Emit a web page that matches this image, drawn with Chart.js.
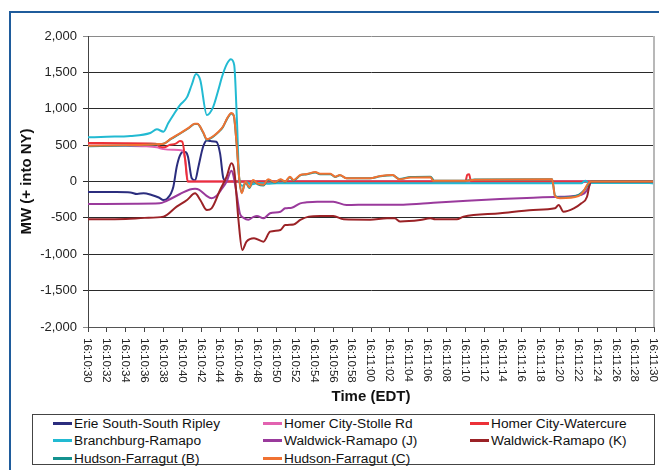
<!DOCTYPE html>
<html>
<head>
<meta charset="utf-8">
<script src="https://cdn.jsdelivr.net/npm/chart.js@4/dist/chart.umd.min.js"></script>
<style>
  html, body { margin: 0; padding: 0; background: #fff; }
  body { width: 659px; height: 470px; position: relative; overflow: hidden; font-family: "Liberation Sans", Arial, sans-serif; }
  #frame { position: absolute; left: 9px; top: 11px; right: -2px; bottom: -2px; border-left: 2px solid #1f5c9c; border-top: 2px solid #1f5c9c; }
  #c { position: absolute; left: 0; top: 0; }
  #legend { position: absolute; left: 32px; top: 414px; width: 623px; height: 51px; border: 1px solid #444; box-sizing: border-box; }
  .item { position: absolute; height: 17px; line-height: 17px; font-size: 13.7px; color: #111; white-space: nowrap; }
  .item .sw { position: absolute; left: 0; top: 7.5px; width: 19px; height: 2.5px; }
  .item .tx { position: absolute; left: 21px; top: 0; }
</style>
</head>
<body>
<div id="frame"></div>
<canvas id="c" width="659" height="410"></canvas>
<div id="legend"></div>
<script>
// ---- Data (seconds after 16:10:30, MW) ----
const seriesNames = [
  "Erie South-South Ripley", "Homer City-Stolle Rd", "Homer City-Watercure",
  "Branchburg-Ramapo", "Waldwick-Ramapo (J)", "Waldwick-Ramapo (K)",
  "Hudson-Farragut (B)", "Hudson-Farragut (C)"
];
const seriesColors = ["#2b2d7e", "#e262b0", "#ec3138", "#22bad2", "#9a3a9c", "#9b2226", "#14928f", "#f07232"];

const erieSouth = [[0,-145],[3,-145],[4.5,-150],[5.2,-172],[5.9,-160],[6.75,-185],[7.5,-220],[8.0,-255],[8.4,-235],[9.05,-71],[9.4,200],[9.75,360],[10.1,410],[10.4,400],[10.6,340],[11.0,44],[11.35,15],[11.7,200],[12.2,478],[12.6,565],[13.0,555],[13.6,547],[14.0,387],[14.35,44],[14.7,0],[60,0]];
const homerStolle = [[0,495],[4,490],[6,485],[7.3,470],[8.0,445],[9.0,435],[10.0,425],[10.3,300],[10.6,0],[60,0]];
const homerWatercure = [[0,530],[4,525],[7.2,520],[7.6,480],[8.1,470],[8.6,500],[9.3,520],[9.75,555],[10.0,545],[10.3,300],[10.55,0],[40.0,0],[40.2,90],[40.4,100],[40.6,0],[60,0]];
const branchburg = [[0,607],[2,615],[4.5,625],[6.6,666],[7.3,717],[8.0,685],[8.5,800],[9.05,914],[9.75,1051],[10.5,1160],[11.0,1330],[11.45,1477],[11.9,1395],[12.6,914],[13.25,1020],[13.8,1250],[14.2,1436],[14.7,1610],[15.15,1680],[15.5,1600],[15.8,800],[16.05,0],[16.4,-60],[16.8,-10],[17.3,-40],[18,-20],[19,-30],[20,-25],[52.3,-25],[52.7,10],[53.1,-20],[59.5,-20],[60,-30]];
const waldwickJ = [[0,-310],[5,-305],[7.6,-300],[8.3,-268],[9.75,-172],[10.8,-110],[11.35,-100],[11.8,-115],[12.5,-190],[13.1,-230],[13.6,-200],[14.2,-100],[14.7,0],[15.2,148],[15.4,90],[15.8,-209],[16.1,-440],[16.5,-500],[17.0,-525],[17.5,-490],[17.9,-474],[18.6,-506],[19.3,-437],[20.4,-415],[20.9,-369],[21.6,-360],[22.5,-300],[23.2,-286],[24.3,-277],[26,-277],[27.4,-323],[29.9,-318],[33.1,-318],[35.2,-305],[36.6,-291],[40.2,-263],[43.7,-240],[47.2,-222],[49.5,-212],[51.5,-199],[52.6,-163],[53.1,-71],[53.35,0],[60,0]];
const waldwickK = [[0,-520],[4,-515],[6,-500],[8,-483],[9.4,-346],[10.5,-254],[11.35,-163],[11.9,-254],[12.6,-392],[13.1,-369],[14.0,-117],[14.7,66],[15.2,250],[15.5,158],[15.95,-529],[16.35,-940],[16.8,-827],[17.6,-781],[18.6,-827],[19.3,-690],[20.4,-666],[20.9,-598],[21.8,-590],[22.5,-529],[23.4,-483],[24.6,-474],[26,-474],[27.1,-520],[29.9,-525],[31.7,-506],[32.5,-506],[33.1,-550],[35.2,-530],[36.3,-506],[36.8,-520],[39.1,-520],[39.8,-483],[43.7,-437],[47.2,-392],[49.5,-369],[49.9,-323],[50.4,-415],[51.5,-369],[52.3,-300],[52.9,-209],[53.2,-25],[53.4,0],[60,0]];
const hudsonB = [[0,485],[4,495],[6,502],[7.5,512],[8.0,518],[8.8,585],[9.75,658],[10.7,735],[11.3,790],[11.6,790],[12.2,675],[12.6,575],[13.3,620],[13.8,675],[14.3,748],[14.8,875],[15.2,935],[15.45,905],[15.75,520],[16.05,15],[16.3,-150],[16.7,-10],[17.1,-90],[17.5,10],[18,-40],[18.6,-55],[19.1,20],[19.8,-15],[20.4,25],[20.9,-5],[21.4,60],[21.8,15],[22.5,85],[23.2,100],[24.1,125],[24.6,100],[25.7,100],[26.2,62],[26.7,85],[27.4,45],[29.9,45],[31,72],[32.3,85],[33,35],[34.2,62],[36.3,66],[36.7,12],[40,12],[41,28],[49.2,32],[49.5,-195],[50.05,-222],[52.0,-185],[52.6,-120],[53.0,-45],[53.3,0],[60,0]];
const hudsonC = [[0,492],[4,500],[6,505],[7.5,515],[8.0,520],[8.8,590],[9.75,662],[10.7,740],[11.3,795],[11.6,795],[12.2,680],[12.6,580],[13.3,625],[13.8,680],[14.3,753],[14.8,880],[15.2,940],[15.45,910],[15.75,525],[16.05,20],[16.3,-160],[16.7,0],[17.1,-80],[17.5,20],[18,-30],[18.6,-45],[19.1,30],[19.8,-10],[20.4,30],[20.9,0],[21.4,66],[21.8,20],[22.5,90],[23.2,103],[24.1,130],[24.6,105],[25.7,105],[26.2,66],[26.7,89],[27.4,44],[29.9,44],[31,76],[32.3,89],[33,30],[34.2,55],[36.3,60],[36.6,10],[40,10],[41,25],[49.2,30],[49.5,-200],[50.05,-230],[52.0,-200],[52.5,-140],[53.0,-30],[53.3,0],[60,0]];

const seriesData = [erieSouth, homerStolle, homerWatercure, branchburg, waldwickJ, waldwickK, hudsonB, hudsonC];

const yTicks = [-2000, -1500, -1000, -500, 0, 500, 1000, 1500, 2000];
const xTickSeconds = [0,2,4,6,8,10,12,14,16,18,20,22,24,26,28,30,32,34,36,38,40,42,44,46,48,50,52,54,56,58,60];

function timeLabel(t) {
  const total = 30 + t;
  const m = 10 + Math.floor(total / 60);
  const s = total % 60;
  return "16:" + String(m).padStart(2, "0") + ":" + String(s).padStart(2, "0");
}

const datasets = seriesData.map((arr, i) => ({
  label: seriesNames[i],
  data: arr.map(([x, y]) => ({ x, y })),
  borderColor: seriesColors[i],
  backgroundColor: seriesColors[i],
  borderWidth: 2,
  pointRadius: 0,
  cubicInterpolationMode: "monotone",
  order: seriesData.length - i
}));

const xLabelsPlugin = {
  id: "xLabels",
  afterDraw(chart) {
    const ctx = chart.ctx;
    const xs = chart.scales.x;
    const top = chart.chartArea.bottom + 11;
    ctx.save();
    ctx.fillStyle = "#222";
    ctx.font = "11.5px 'Liberation Sans', Arial, sans-serif";
    ctx.textAlign = "left";
    ctx.textBaseline = "middle";
    xTickSeconds.forEach(t => {
      const px = xs.getPixelForValue(t);
      ctx.save();
      ctx.translate(px - 0.5, top);
      ctx.rotate(Math.PI / 2);
      ctx.fillText(timeLabel(t), 0, 0);
      ctx.restore();
    });
    // plot area right border
    const a = chart.chartArea;
    ctx.strokeStyle = "#b8b8b8";
    ctx.lineWidth = 2;
    ctx.beginPath();
    ctx.moveTo(a.right, a.top);
    ctx.lineTo(a.right, a.bottom);
    ctx.stroke();
    ctx.restore();
  }
};

new Chart(document.getElementById("c"), {
  type: "line",
  data: { datasets },
  options: {
    responsive: false,
    animation: false,
    layout: { padding: { top: 36, right: 5, left: 0, bottom: 0 } },
    plugins: { legend: { display: false }, tooltip: { enabled: false } },
    scales: {
      x: {
        type: "linear",
        min: 0, max: 60,
        afterBuildTicks(scale) { scale.ticks = xTickSeconds.map(v => ({ value: v })); },
        afterFit(scale) { scale.height = 83; },
        ticks: { display: false, stepSize: 2 },
        grid: { display: true, drawOnChartArea: false, drawTicks: true, tickLength: 5, color: "#444", lineWidth: 1 },
        border: { display: true, color: "#555", width: 1 },
        title: { display: true, text: "Time (EDT)", color: "#111", font: { family: "'Liberation Sans', Arial, sans-serif", size: 15, weight: "bold" }, padding: { top: 0, bottom: 4 } }
      },
      y: {
        min: -2000, max: 2000,
        afterBuildTicks(scale) { scale.ticks = yTicks.map(v => ({ value: v })); },
        afterFit(scale) { scale.width = 88; },
        ticks: {
          color: "#222",
          padding: 6,
          font: { family: "'Liberation Sans', Arial, sans-serif", size: 13 },
          callback: v => v.toLocaleString("en-US")
        },
        grid: {
          drawTicks: true, tickLength: 5,
          color: ctx => (ctx.tick && (ctx.tick.value === 2000 || ctx.tick.value === -2000)) ? "#8a8a8a" : "#2a2a2a",
          lineWidth: 1
        },
        border: { display: true, color: "#444", width: 1 },
        title: { display: true, text: "MW (+ into NY)", color: "#111", font: { family: "'Liberation Sans', Arial, sans-serif", size: 15, weight: "bold" }, padding: { top: 18, bottom: 0 } }
      }
    }
  },
  plugins: [xLabelsPlugin]
});

// HTML legend built from the datasets
const legend = document.getElementById("legend");
const colX = [20, 230, 437];
const rowY = [-0.5, 16.5, 34.5];
datasets.forEach((ds, i) => {
  const el = document.createElement("div");
  el.className = "item";
  el.style.left = colX[i % 3] + "px";
  el.style.top = rowY[Math.floor(i / 3)] + "px";
  const sw = document.createElement("span");
  sw.className = "sw";
  sw.style.background = ds.borderColor;
  const tx = document.createElement("span");
  tx.className = "tx";
  tx.textContent = ds.label;
  el.appendChild(sw); el.appendChild(tx);
  legend.appendChild(el);
});
</script>
</body>
</html>
